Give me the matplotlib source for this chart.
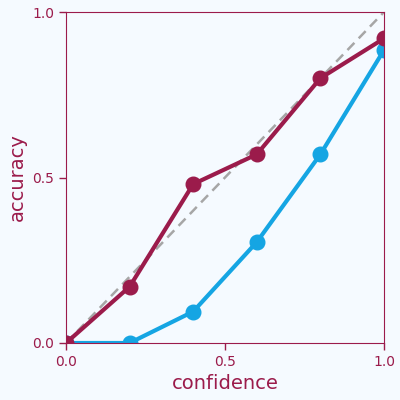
import matplotlib
matplotlib.use("Agg")
import matplotlib.pyplot as plt

confidence = [0.0, 0.2, 0.4, 0.6, 0.8, 1.0]
acc_red = [0.0, 0.17, 0.48, 0.57, 0.80, 0.92]
acc_blue = [0.0, 0.0, 0.095, 0.305, 0.57, 0.885]
ticks = [0.0, 0.5, 1.0]
tick_labels = ["0.0", "0.5", "1.0"]

crimson = "#9B1B4B"
blue = "#15A5E3"
bg = "#F5FAFF"

fig = plt.figure(figsize=(4, 4), dpi=100, facecolor=bg)
ax = fig.add_axes([0.165, 0.1425, 0.795, 0.8275], facecolor=bg)

# perfect calibration reference
ax.plot([0, 1], [0, 1], color="#A6A6A6", lw=1.8, ls=(0, (4, 2.5)), zorder=1)
ax.plot(confidence, acc_blue, color=blue, lw=3, marker="o", ms=10.5, zorder=2)
ax.plot(confidence, acc_red, color=crimson, lw=3, marker="o", ms=10.5, zorder=3)

ax.set_xlim(0, 1)
ax.set_ylim(0, 1)
ax.set_xticks(ticks)
ax.set_xticklabels(tick_labels)
ax.set_yticks(ticks)
ax.set_yticklabels(tick_labels)
ax.tick_params(colors=crimson, labelsize=10, length=5, width=1)
for s in ax.spines.values():
    s.set_color(crimson)
ax.set_xlabel("confidence", color=crimson, fontsize=14)
ax.set_ylabel("accuracy", color=crimson, fontsize=14)

fig.savefig("out.png", dpi=100, facecolor=bg)
